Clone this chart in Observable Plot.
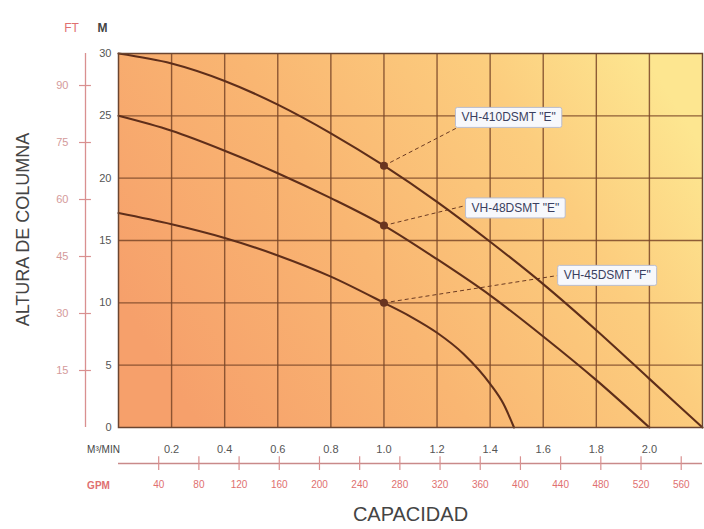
<!DOCTYPE html>
<html>
<head>
<meta charset="utf-8">
<script src="https://cdn.jsdelivr.net/npm/d3@7"></script>
<script src="https://cdn.jsdelivr.net/npm/@observablehq/plot@0.6"></script>
<style>
  body { margin: 0; background: #ffffff; }
  #chart svg { display: block; }
</style>
</head>
<body>
<div id="chart"></div>
<script>
// ---- data ----
const serieNames = ['VH-410DSMT "E"', 'VH-48DSMT "E"', 'VH-45DSMT "F"'];

const capacidad410 = [0, 0.2, 0.4, 0.6, 0.8, 1.0, 1.2, 1.4, 1.6, 1.8, 2.0, 2.2];
const altura410    = [30, 29.2, 27.8, 25.9, 23.6, 21.0, 18.1, 14.9, 11.5, 7.8, 3.9, 0];

const capacidad48  = [0, 0.2, 0.4, 0.6, 0.8, 1.0, 1.2, 1.4, 1.6, 1.8, 2.0];
const altura48     = [25, 23.8, 22.2, 20.4, 18.4, 16.2, 13.5, 10.6, 7.3, 3.8, 0];

const capacidad45  = [0, 0.2, 0.4, 0.6, 0.8, 1.0, 1.1, 1.2, 1.3, 1.4, 1.45, 1.49];
const altura45     = [17.2, 16.3, 15.2, 13.8, 12.1, 10.0, 8.9, 7.6, 5.9, 3.5, 1.9, 0];

// marked operating points and their callout labels
const markerX = [1.0, 1.0, 1.0];
const markerY = [21.0, 16.2, 10.0];
const labelX  = [1.292, 1.330, 1.677];
const labelY  = [24.86, 17.6, 12.19];
const leaderX = [1.277, 1.307, 1.654];
const leaderY = [24.06, 17.8, 12.19];

// tick labels
const xTicks   = [0.2, 0.4, 0.6, 0.8, 1.0, 1.2, 1.4, 1.6, 1.8, 2.0];
const yTicks   = [0, 5, 10, 15, 20, 25, 30];
const ftTicks  = [15, 30, 45, 60, 75, 90];
const gpmTicks = [40, 80, 120, 160, 200, 240, 280, 320, 360, 400, 440, 480, 520, 560];
const FT_TO_M = 0.3048;
const M3MIN_PER_GPM = 1 / 264.172;

// ---- build tables ----
const rows = [
  ...capacidad410.map((c, i) => ({serie: serieNames[0], c, h: altura410[i]})),
  ...capacidad48.map((c, i) => ({serie: serieNames[1], c, h: altura48[i]})),
  ...capacidad45.map((c, i) => ({serie: serieNames[2], c, h: altura45[i]}))
];
const callouts = serieNames.map((name, i) => ({
  name, mx: markerX[i], my: markerY[i], lx: labelX[i], ly: labelY[i], ex: leaderX[i], ey: leaderY[i]
}));
const ftRows = ftTicks.map(ft => ({ft, m: ft * FT_TO_M}));
const gpmRows = gpmTicks.map(g => ({g, c: g * M3MIN_PER_GPM}));

const brown = "#5e2e1a";
const gridColor = "#7a4628";
const pinkLine = "#d99090";
const pinkText = "#e07070";

const plot = Plot.plot({
  width: 704,
  height: 529,
  marginLeft: 118,
  marginRight: 2,
  marginTop: 53,
  marginBottom: 102,
  style: {
    background: "transparent",
    fontFamily: "Liberation Sans, Arial, sans-serif",
    fontSize: "11px",
    color: "#555",
    overflow: "visible"
  },
  x: {domain: [0, 2.2], ticks: xTicks, tickFormat: d => d.toFixed(1), tickSize: 0, tickPadding: 18, label: null},
  y: {domain: [0, 30], ticks: yTicks, tickSize: 0, tickPadding: 7, label: null},
  marks: [
    Plot.frame({fill: "#fab872"}),
    Plot.ruleX(xTicks, {stroke: gridColor, strokeWidth: 1.4, strokeOpacity: 0.85}),
    Plot.ruleY(yTicks.filter(d => d > 0 && d < 30), {stroke: gridColor, strokeWidth: 1.4, strokeOpacity: 0.85}),
    // leaders
    Plot.link(callouts, {x1: "mx", y1: "my", x2: "ex", y2: "ey", stroke: "#6b3a22", strokeWidth: 1, strokeDasharray: "4,3"}),
    // curves
    Plot.line(rows, {x: "c", y: "h", z: "serie", curve: "monotone-x", stroke: brown, strokeWidth: 2.1}),
    Plot.dot(callouts, {x: "mx", y: "my", r: 4, fill: "#6a3520"}),
    // callout labels
    Plot.text(callouts, {x: "lx", y: "ly", text: "name", textAnchor: "start", fontSize: 12,
      fontFamily: "Liberation Sans Narrow, Liberation Sans, Arial, sans-serif", fill: "#3a3f60"}),
    Plot.frame({stroke: "#6b4530", strokeWidth: 1.5}),
    // FT secondary axis
    Plot.ruleX([0], {y1: 0, y2: 30, dx: -33, stroke: pinkLine, strokeWidth: 1.3}),
    Plot.ruleY(ftRows, {y: "m", x1: 0, x2: 0.045, dx: -39, stroke: pinkLine, strokeWidth: 1.2}),
    Plot.text(ftRows, {y: "m", text: "ft", frameAnchor: "left", dx: -50, textAnchor: "end", fill: "#d49a9a", fontSize: 11}),
    Plot.text(["FT"], {frameAnchor: "top-left", dx: -47, dy: -30, textAnchor: "middle", fill: pinkText, fontSize: 12}),
    Plot.text(["M"], {frameAnchor: "top-left", dx: -16, dy: -30, textAnchor: "middle", fill: "#444", fontSize: 12, fontWeight: "bold"}),
    // GPM secondary axis
    Plot.ruleY([0], {x1: 0, x2: 2.2, dy: 36, stroke: "#c98a8a", strokeWidth: 1.3}),
    Plot.ruleX(gpmRows, {x: "c", y1: 0, y2: 1.1, dy: 43, stroke: pinkLine, strokeWidth: 1.2}),
    Plot.text(gpmRows, {x: "c", text: "g", frameAnchor: "bottom", dy: 60, fill: pinkText, fontSize: 10}),
    Plot.text(["GPM"], {frameAnchor: "bottom-left", dx: -20, dy: 61, textAnchor: "middle", fill: pinkText, fontSize: 10, fontWeight: "bold"}),
    Plot.text(["M³/MIN"], {frameAnchor: "bottom-left", dx: -15, dy: 25, textAnchor: "middle", fill: "#444", fontSize: 10}),
    // titles
    Plot.text(["ALTURA DE COLUMNA"], {frameAnchor: "left", dx: -95, dy: -11, rotate: -90, textAnchor: "middle", fill: "#444", fontSize: 18}),
    Plot.text(["CAPACIDAD"], {frameAnchor: "bottom", dx: 0, dy: 93, textAnchor: "middle", fill: "#444", fontSize: 20})
  ]
});

document.getElementById("chart").appendChild(plot);

// background gradient for the plotting area
const svg = d3.select(plot);
const grad = svg.insert("defs", ":first-child").append("linearGradient")
  .attr("id", "bg").attr("x1", 0).attr("y1", 0.65).attr("x2", 1).attr("y2", 0.25);
[[0, "#f6a06b"], [0.4, "#f9b672"], [0.75, "#fccd7e"], [1, "#fde690"]].forEach(([o, c]) =>
  grad.append("stop").attr("offset", o).attr("stop-color", c));
const frameRect = plot.querySelector('[aria-label="frame"]');
if (frameRect) frameRect.setAttribute("fill", "url(#bg)");

// white boxes behind callout labels
plot.querySelectorAll("text").forEach(t => {
  if (!t.textContent.startsWith("VH-")) return;
  const b = t.getBBox();
  const r = document.createElementNS("http://www.w3.org/2000/svg", "rect");
  r.setAttribute("x", b.x - 6);
  r.setAttribute("y", b.y - 3);
  r.setAttribute("width", b.width + 12);
  r.setAttribute("height", b.height + 6);
  r.setAttribute("rx", 2);
  r.setAttribute("fill", "#f7f8fc");
  r.setAttribute("stroke", "#b9bdd0");
  r.setAttribute("stroke-width", 1);
  const tr = t.getAttribute("transform");
  if (tr) r.setAttribute("transform", tr);
  t.parentNode.insertBefore(r, t);
});
</script>
</body>
</html>
